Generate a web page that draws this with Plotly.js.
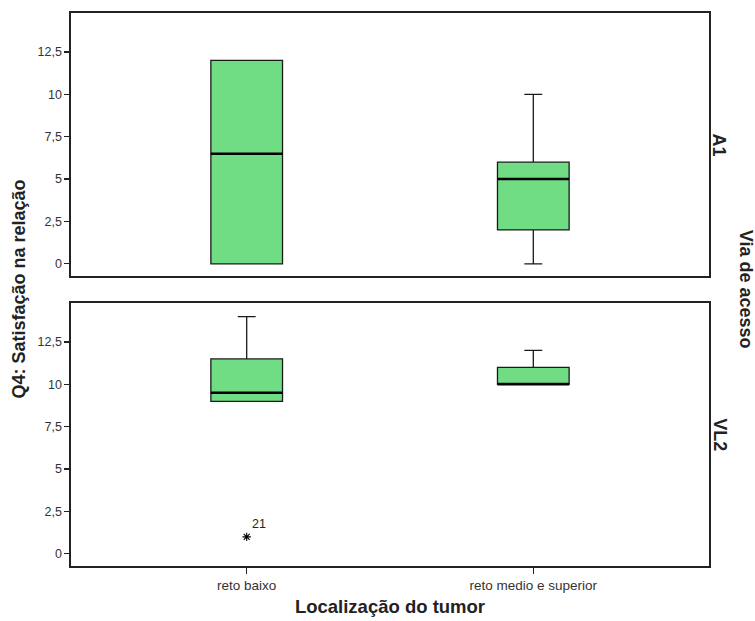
<!DOCTYPE html>
<html>
<head>
<meta charset="utf-8">
<script src="https://cdn.plot.ly/plotly-3.0.1.min.js"></script>
<style>html,body{margin:0;padding:0;background:#fff;}#chart{width:755px;height:621px;}</style>
</head>
<body>
<div id="chart"></div>
<script>
// Categories (x) and panels (facet rows)
const categories = ["reto baixo", "reto medio e superior"];
const panels = ["A1", "VL2"];

// Box statistics per panel, per category
const a1_lower  = [0, 0];
const a1_q1     = [0, 2];
const a1_median = [6.5, 5];
const a1_q3     = [12, 6];
const a1_upper  = [12, 10];

const vl2_lower  = [9, 10];
const vl2_q1     = [9, 10];
const vl2_median = [9.5, 10];
const vl2_q3     = [11.5, 11];
const vl2_upper  = [14, 12];

// Extreme outliers (VL2 panel)
const vl2_outlier_cat   = ["reto baixo"];
const vl2_outlier_val   = [1];
const vl2_outlier_label = ["21"];

const yTicks = [0, 2.5, 5, 7.5, 10, 12.5];

const GREEN = "#70dd85";
const FONT = "Liberation Sans, Arial, sans-serif";
const BOXW = 0.25;
const xIdx = categories.map((c, i) => i);

function boxTrace(lower, q1, med, q3, upper, xa, ya) {
  return {
    type: "box",
    x: xIdx,
    lowerfence: lower, q1: q1, median: med, q3: q3, upperfence: upper,
    width: BOXW,
    whiskerwidth: 0.25,
    fillcolor: GREEN,
    line: {color: "#1a1a1a", width: 1.3},
    boxpoints: false,
    xaxis: xa, yaxis: ya,
    hoverinfo: "skip",
    showlegend: false
  };
}

function medianTrace(med, xa, ya) {
  const xs = [], ys = [];
  med.forEach((m, i) => { xs.push(i - BOXW / 2, i + BOXW / 2, null); ys.push(m, m, null); });
  return {type: "scatter", mode: "lines", x: xs, y: ys,
    line: {color: "#000", width: 2.5}, xaxis: xa, yaxis: ya,
    hoverinfo: "skip", showlegend: false};
}

const traces = [
  boxTrace(a1_lower, a1_q1, a1_median, a1_q3, a1_upper, "x2", "y2"),
  medianTrace(a1_median, "x2", "y2"),
  boxTrace(vl2_lower, vl2_q1, vl2_median, vl2_q3, vl2_upper, "x", "y"),
  medianTrace(vl2_median, "x", "y"),
  {
    type: "scatter", mode: "markers+text",
    x: vl2_outlier_cat.map(c => categories.indexOf(c)),
    y: vl2_outlier_val,
    text: vl2_outlier_label,
    textposition: "top right",
    textfont: {family: FONT, size: 12.5, color: "#222"},
    marker: {symbol: "asterisk-open", size: 7, line: {color: "#000", width: 1.1}, color: "#000"},
    xaxis: "x", yaxis: "y", hoverinfo: "skip", showlegend: false,
    cliponaxis: false
  }
];

const xRange = [-0.613, 1.613];
const yRange = [-0.72, 14.8];
const lineCol = "#222";

const yCommon = {
  range: yRange, tickvals: yTicks, ticks: "outside", ticklen: 5, tickwidth: 1.2,
  tickcolor: "#222", showline: true, mirror: true, linecolor: lineCol, linewidth: 1.6,
  showgrid: false, zeroline: false, tickfont: {family: FONT, size: 12.5, color: "#333"}
};

const layout = {
  width: 755, height: 621,
  margin: {l: 71, r: 46, t: 13, b: 55},
  paper_bgcolor: "#fff", plot_bgcolor: "#fff",
  separators: ",.",
  font: {family: FONT, color: "#222"},
  showlegend: false,
  xaxis: {
    domain: [0, 1], anchor: "y", range: xRange,
    tickvals: xIdx, ticktext: categories,
    ticks: "outside", ticklen: 6, tickwidth: 1.2, tickcolor: "#222",
    showline: true, mirror: true, linecolor: lineCol, linewidth: 1.6,
    showgrid: false, zeroline: false,
    tickfont: {family: FONT, size: 13.5, color: "#333"},
    title: {text: "Localização do tumor", font: {family: FONT, size: 18.5, color: "#222", weight: "bold"}, standoff: 8}
  },
  yaxis: Object.assign({domain: [0, 0.4756], anchor: "x"}, yCommon),
  xaxis2: {
    domain: [0, 1], anchor: "y2", range: xRange, matches: "x",
    showticklabels: false, ticks: "",
    showline: true, mirror: true, linecolor: lineCol, linewidth: 1.6,
    showgrid: false, zeroline: false
  },
  yaxis2: Object.assign({domain: [0.5244, 1], anchor: "x2"}, yCommon),
  annotations: [
    {text: "<b>Q4: Satisfação na relação</b>", xref: "paper", yref: "paper",
     x: -0.083, y: 0.5, xanchor: "center", yanchor: "middle", textangle: -90,
     showarrow: false, font: {family: FONT, size: 18, color: "#222"}},
    {text: "<b>" + panels[0] + "</b>", xref: "paper", yref: "paper",
     x: 1.016, y: 0.762, xanchor: "center", yanchor: "middle", textangle: 90,
     showarrow: false, font: {family: FONT, size: 18, color: "#222"}},
    {text: "<b>" + panels[1] + "</b>", xref: "paper", yref: "paper",
     x: 1.016, y: 0.238, xanchor: "center", yanchor: "middle", textangle: 90,
     showarrow: false, font: {family: FONT, size: 18, color: "#222"}},
    {text: "<b>Via de acesso</b>", xref: "paper", yref: "paper",
     x: 1.059, y: 0.5, xanchor: "center", yanchor: "middle", textangle: 90,
     showarrow: false, font: {family: FONT, size: 18, color: "#222"}}
  ]
};

Plotly.newPlot("chart", traces, layout, {staticPlot: true, displayModeBar: false});
</script>
</body>
</html>
